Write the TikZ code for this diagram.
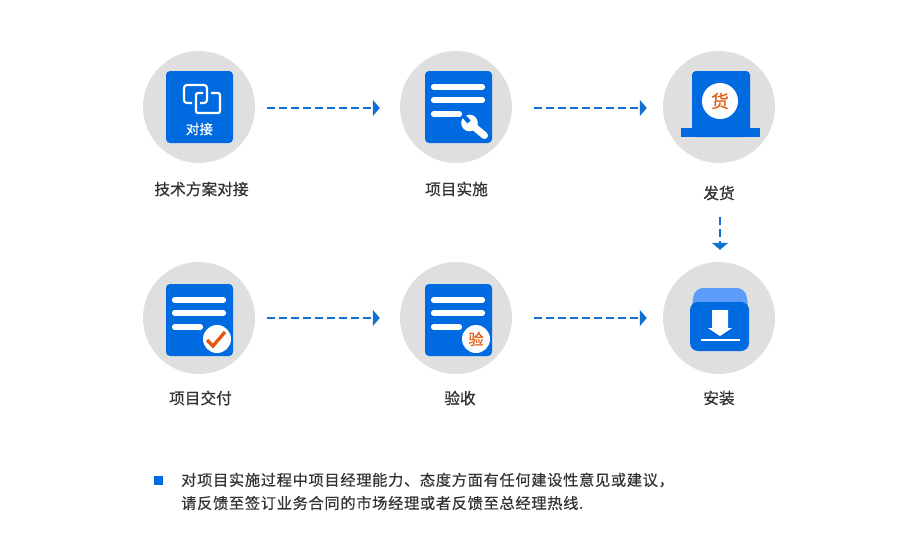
\documentclass[tikz,border=0pt]{standalone}
\usepackage{fontspec}
\setmainfont{Noto Sans CJK SC}[FakeBold=0.6]
\newfontfamily\notefont{Noto Sans CJK SC}[FakeBold=0.45,LetterSpace=4.5]
\usepackage{xcolor}
\usetikzlibrary{arrows.meta,positioning}
\definecolor{IconBlue}{HTML}{006BE0}
\definecolor{LineBlue}{HTML}{1170D2}
\definecolor{TabBlue}{HTML}{5B9DF9}
\definecolor{DiscGray}{HTML}{DFDFE0}
\definecolor{BadgeOrange}{HTML}{E2590F}
\definecolor{TextGray}{HTML}{333333}
\tikzset{
  disc/.style={circle,fill=DiscGray,minimum size=33.6mm,inner sep=0pt},
  steplabel/.style={font=\fontsize{13.4pt}{15pt}\selectfont,text=TextGray,inner sep=0pt},
  notetext/.style={font=\notefont\fontsize{13pt}{15pt}\selectfont,text=TextGray,inner sep=0pt,anchor=west},
  badge/.style={circle,fill=white,inner sep=0pt},
  flow/.style={LineBlue,line width=0.7mm,dash pattern=on 2.4mm off 1.2mm,-{Triangle[length=2.1mm,width=4.8mm]}},
  docline/.style={white,line width=1.55mm,line cap=round},
}

\begin{document}
\begin{tikzpicture}[x=0.3mm,y=-0.3mm]
  \useasboundingbox (0,0) rectangle (900,559);
  \fill[white] (0,0) rectangle (900,559);
  % discs
  \node[disc] (duijie) at (199,107) {};
  \node[disc] (shishi) at (456,107) {};
  \node[disc] (fahuo) at (719,107) {};
  \node[disc] (jiaofu) at (199,318) {};
  \node[disc] (yanshou) at (456,318) {};
  \node[disc] (anzhuang) at (719,318) {};
  % labels
  \node[steplabel] (duijielabel) at (201.5,189) {技术方案对接};
  \node[steplabel] (shishilabel) at (456.5,189) {项目实施};
  \node[steplabel] (fahuolabel) at (719,193) {发货};
  \node[steplabel] (jiaofulabel) at (200.5,398) {项目交付};
  \node[steplabel] (yanshoulabel) at (460,398) {验收};
  \node[steplabel] (anzhuanglabel) at (719,398) {安装};
  % arrows
  \draw[flow,shorten <=3.6mm,shorten >=6mm] ([yshift=-0.3mm]duijie.east) -- ([yshift=-0.3mm]shishi.west);
  \draw[flow,shorten <=6.6mm,shorten >=4.8mm] ([yshift=-0.3mm]shishi.east) -- ([yshift=-0.3mm]fahuo.west);
  \draw[flow,shorten <=3.6mm,shorten >=6mm] (jiaofu) -- (yanshou);
  \draw[flow,shorten <=6.6mm,shorten >=4.8mm] (yanshou) -- (anzhuang);
  \draw[flow,line width=0.6mm,shorten <=7.2mm,shorten >=3.6mm] ([xshift=0.3mm]fahuolabel.center) -- ([xshift=0.3mm]anzhuang.north);
  % document icons
  \foreach \ox/\oy in {425/71,166/284,425/284} {
    \fill[IconBlue,rounded corners=1.2mm] (\ox,\oy) rectangle ++(67,72);
    \draw[docline] (\ox+8.5,\oy+16) -- (\ox+57.5,\oy+16);
    \draw[docline] (\ox+8.5,\oy+29) -- (\ox+57.5,\oy+29);
    \draw[docline] (\ox+8.5,\oy+43) -- (\ox+34.5,\oy+43);
  }
  % handshake icon
  \fill[IconBlue,rounded corners=1.2mm] (166,71) rectangle (233,143);
  \draw[white,line width=0.65mm,rounded corners=0.9mm] (192,103) -- (184,103) -- (184,85) -- (207,85) -- (207,103) -- (200,103);
  \draw[white,line width=0.65mm,rounded corners=0.6mm] (203,93) -- (196,93) -- (196,113) -- (220,113) -- (220,93) -- (211,93);
  \node[font=\fontsize{11.5pt}{13pt}\selectfont,text=white,inner sep=0pt] (duijieicon) at (199.5,129) {对接};
  % wrench
  \draw[white,line width=2.1mm,line cap=round] (469.5,123) -- (484.5,135.5);
  \fill[white] (469.5,123) circle (2.5mm);
  \draw[IconBlue,line width=1.3mm] (463,115) -- (469,122);
  % shipping icon
  \fill[IconBlue,rounded corners=1.2mm] (692,137) |- (750,71) -- (750,137) -- cycle;
  \fill[IconBlue] (681,128) rectangle (760,137);
  \node[badge,minimum size=10.8mm,font=\fontsize{15pt}{16pt}\selectfont,text=BadgeOrange] (huobadge) at (720,101) {货};
  % check badge
  \node[badge,minimum size=8.4mm] (checkbadge) at (217,339) {};
  \draw[BadgeOrange,line width=1mm] (207,340) -- (213,346) -- (225,332);
  % yan badge
  \node[badge,minimum size=8.4mm,font=\fontsize{13pt}{14pt}\selectfont,text=BadgeOrange] (yanbadge) at (476,339) {验};
  % install icon
  \fill[TabBlue,rounded corners=2.4mm] (691,310) -- (695,288) -- (745,288) -- (749,310) -- cycle;
  \fill[IconBlue,rounded corners=2.4mm] (690,302) rectangle (749,351);
  \fill[white] (712,310) -- (728,310) -- (728,328) -- (732,328) -- (720,336) -- (708,328) -- (712,328) -- cycle;
  \fill[white] (701,339) rectangle (740,341);
  % note
  \fill[IconBlue] (154,476) rectangle (163,485);
  \node[notetext] (noteone) at (181,480) {对项目实施过程中项目经理能力、态度方面有任何建设性意见或建议，};
  \node[notetext] (notetwo) at (181,503) {请反馈至签订业务合同的市场经理或者反馈至总经理热线.};
\end{tikzpicture}
\end{document}
